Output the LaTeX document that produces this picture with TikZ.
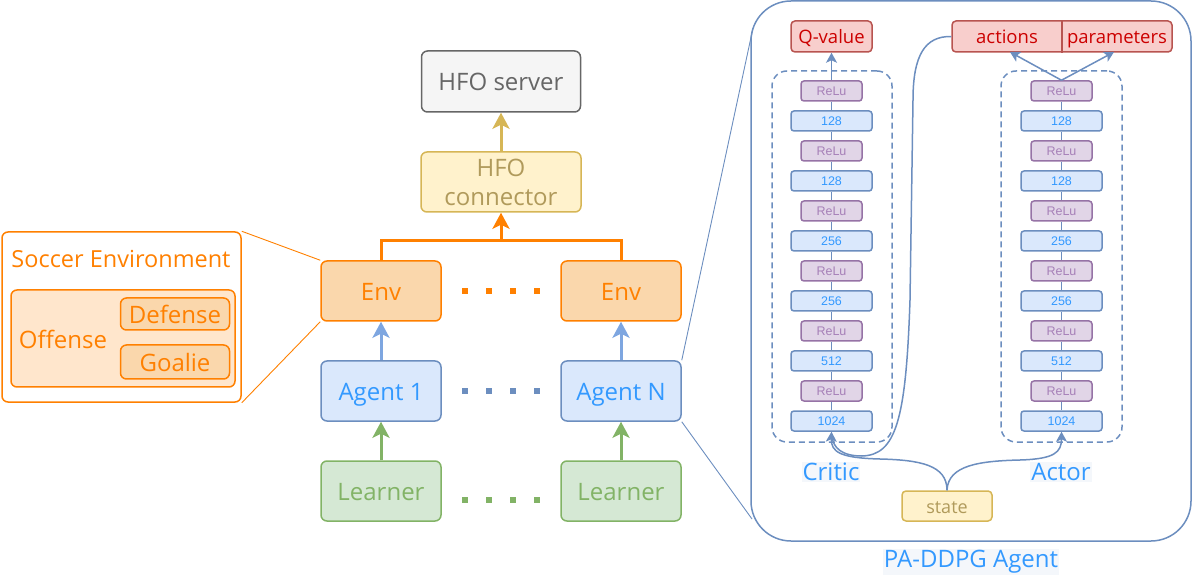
\documentclass[tikz,border=0pt]{standalone}
\usepackage{fontspec}
\setmainfont{Open Sans}
\newfontfamily\smallfont{Liberation Sans}
\usetikzlibrary{arrows.meta,calc}
\definecolor{orng}{HTML}{FF8000}
\definecolor{envfill}{HTML}{FAD7AC}
\definecolor{offfill}{HTML}{FFE6CC}
\definecolor{bfill}{HTML}{DAE8FC}
\definecolor{bdraw}{HTML}{6C8EBF}
\definecolor{btext}{HTML}{3399FF}
\definecolor{barrow}{HTML}{7EA6E0}
\definecolor{gfill}{HTML}{D5E8D4}
\definecolor{gdraw}{HTML}{82B366}
\definecolor{yfill}{HTML}{FFF2CC}
\definecolor{ydraw}{HTML}{D6B656}
\definecolor{ytext}{HTML}{B09A5B}
\definecolor{grfill}{HTML}{F5F5F5}
\definecolor{grdraw}{HTML}{666666}
\definecolor{rfill}{HTML}{F8CECC}
\definecolor{rdraw}{HTML}{B85450}
\definecolor{rtext}{HTML}{CC0000}
\definecolor{pfill}{HTML}{E1D5E7}
\definecolor{pdraw}{HTML}{9673A6}
\definecolor{ptext}{HTML}{A680B8}
\definecolor{lblbg}{HTML}{F4F7FB}
\tikzset{
  box/.style={rounded corners=6pt, line width=1.5pt, inner sep=0pt, align=center,
    font=\fontsize{24}{29}\selectfont},
  bigtxt/.style={text height=18.6pt, text depth=0pt},
  midtxt/.style={text height=14.4pt, text depth=0pt},
  cbox1/.style={box, bigtxt},
  bigbox/.style={cbox1, minimum width=120pt, minimum height=60pt},
  envbox/.style={bigbox, fill=envfill, draw=orng, text=orng},
  agentbox/.style={bigbox, fill=bfill, draw=bdraw, text=btext},
  learnbox/.style={bigbox, fill=gfill, draw=gdraw, text=gdraw},
  relubox/.style={rounded corners=3pt, line width=1.5pt, inner sep=0pt, minimum width=61pt,
    minimum height=20pt, fill=pfill, draw=pdraw, text=ptext, font=\smallfont\fontsize{12.5}{13}\selectfont},
  densebox/.style={rounded corners=3pt, line width=1.5pt, inner sep=0pt, minimum width=81pt,
    minimum height=20pt, fill=bfill, draw=bdraw, text=btext, font=\smallfont\fontsize{12.5}{13}\selectfont},
  bigarrow/.style={line width=3pt, -{Stealth[length=16pt,width=17pt,inset=4pt]}},
  smallarrow/.style={line width=1.5pt, draw=bdraw, -{Stealth[length=10pt,width=11pt,inset=2.5pt]}},
  dotline/.style={line width=6pt, dash pattern=on 6pt off 18pt},
  dashbox/.style={draw=bdraw, line width=1.5pt, dash pattern=on 6pt off 4pt, rounded corners=15pt},
  lbl/.style={fill=lblbg, inner sep=1pt, text=btext, font=\fontsize{24}{29}\selectfont},
  thinlink/.style={line width=0.9pt}
}
\begin{document}
\begin{tikzpicture}[x=1pt,y=-1pt]
\useasboundingbox (0,0) rectangle (1192,577);

% left column
\node[cbox1, minimum width=159pt, minimum height=61pt, fill=grfill, draw=grdraw, text=grdraw] (server) at (501,81.5) {HFO server};
\node[box, minimum width=160pt, minimum height=60pt, fill=yfill, draw=ydraw, text=ytext] (conn) at (501,182) {HFO\\connector};
\node[envbox] (env1) at (381,291) {Env};
\node[envbox] (env2) at (621,291) {Env};
\node[agentbox] (ag1) at (381,391) {Agent 1};
\node[agentbox] (agN) at (621,391) {Agent N};
\node[learnbox] (le1) at (381,491) {Learner};
\node[learnbox] (leN) at (621,491) {Learner};

\draw[bigarrow, draw=ydraw] (conn.north) -- (server.south);
\coordinate (busm) at (501,241);
\draw[line width=3pt, orng] (env1.north) |- (busm) -| (env2.north);
\draw[bigarrow, draw=orng] (busm) -- (conn.south);
\draw[bigarrow, draw=barrow] (ag1.north) -- (env1.south);
\draw[bigarrow, draw=barrow] (agN.north) -- (env2.south);
\draw[bigarrow, draw=gdraw] (le1.north) -- (ag1.south);
\draw[bigarrow, draw=gdraw] (leN.north) -- (agN.south);

\coordinate (d1a) at (462,291); \coordinate (d1b) at (540,291);
\coordinate (d2a) at (462,391); \coordinate (d2b) at (540,391);
\coordinate (d3a) at (462,500); \coordinate (d3b) at (540,500);
\draw[dotline, orng] (d1a) -- (d1b);
\draw[dotline, bdraw] (d2a) -- (d2b);
\draw[dotline, gdraw] (d3a) -- (d3b);

% soccer environment
\node[box, minimum width=239pt, minimum height=170pt, fill=white, draw=orng] (soccer) at (121.5,317) {};
\node[text=orng, font=\fontsize{23.5}{28}\selectfont, text height=18.2pt, text depth=0pt] (soccert) at (121,258) {Soccer Environment};
\node[box, minimum width=224pt, minimum height=97pt, fill=offfill, draw=orng] (off) at (123,338.5) {};
\node[text=orng, font=\fontsize{24}{29}\selectfont, bigtxt] (offt) at (63,339) {Offense};
\node[cbox1, minimum width=109pt, minimum height=32pt, fill=envfill, draw=orng, text=orng] (def) at (175,314) {Defense};
\node[cbox1, minimum width=109pt, minimum height=34pt, fill=envfill, draw=orng, text=orng] (goal) at (175,362) {Goalie};
\draw[thinlink, orng] (soccer.north east) -- (env1.north west);
\draw[thinlink, orng] (soccer.south east) -- (env1.south west);

% PA-DDPG agent
\node[draw=bdraw, line width=1.5pt, rounded corners=40pt, minimum width=440pt, minimum height=540pt, inner sep=0pt] (pa) at (971,271) {};
\node[lbl] (pal) at (971,562) {PA-DDPG Agent};
\coordinate (paa) at (753,28);
\coordinate (pab) at (752,519);
\draw[thinlink, bdraw] (agN.north east) -- (paa);
\draw[thinlink, bdraw] (agN.south east) -- (pab);

\node[dashbox, minimum width=120pt, minimum height=371pt] (cbox) at (832,256.5) {};
\node[dashbox, minimum width=121pt, minimum height=371pt] (abox) at (1061.5,256.5) {};

% critic column
\foreach \n/\y/\t in {c1/91/ReLu, c3/151/ReLu, c5/211/ReLu, c7/271/ReLu, c9/331/ReLu, c11/391/ReLu}
  \node[relubox] (\n) at (831.5,\y) {\t};
\foreach \n/\y/\t in {c2/121/128, c4/181/128, c6/241/256, c8/301/256, c10/361/512, c12/421/1024}
  \node[densebox] (\n) at (831.5,\y) {\t};
\foreach \n/\y/\t in {a1/91/ReLu, a3/151/ReLu, a5/211/ReLu, a7/271/ReLu, a9/331/ReLu, a11/391/ReLu}
  \node[relubox] (\n) at (1061.5,\y) {\t};
\foreach \n/\y/\t in {a2/121/128, a4/181/128, a6/241/256, a8/301/256, a10/361/512, a12/421/1024}
  \node[densebox] (\n) at (1061.5,\y) {\t};
\foreach \p in {c,a}{
  \foreach \i [evaluate=\i as \j using int(\i+1)] in {1,...,11}
    \draw[line width=1.5pt, bdraw] (\p\i.south) -- (\p\j.north);
}

\node[box, minimum width=81pt, minimum height=31pt, fill=rfill, draw=rdraw, text=rtext,
  font=\fontsize{18.5}{22}\selectfont, rounded corners=4pt, midtxt] (qv) at (831.5,36.5) {Q-value};
\node[box, minimum width=220pt, minimum height=31pt, fill=rfill, draw=rdraw, rounded corners=4pt] (ap) at (1062,36.5) {};
\draw[line width=1.5pt, rdraw] (ap.north) -- (ap.south);
\node[text=rtext, font=\fontsize{18.5}{22}\selectfont, inner sep=0pt, midtxt] (act) at (1007,36.5) {actions};
\node[text=rtext, font=\fontsize{18.5}{22}\selectfont, inner sep=0pt, midtxt] (par) at (1117,36.5) {parameters};

\draw[smallarrow] (c1.north) -- (qv.south);
\coordinate (atip1) at (1010,52);
\coordinate (atip2) at (1114,52);
\draw[smallarrow] (a1.north) -- (atip1);
\draw[smallarrow] (a1.north) -- (atip2);

\node[lbl] (critic) at (831,472) {Critic};
\node[lbl] (actor) at (1061,472) {Actor};

\node[box, minimum width=90pt, minimum height=30pt, fill=yfill, draw=ydraw, text=ytext,
  font=\fontsize{18}{22}\selectfont, rounded corners=4pt, text height=14pt, text depth=0pt] (state) at (947,506) {state};

\draw[smallarrow] (state.north) .. controls (947,465) and (920,460) .. (880,459)
   .. controls (840,458) and (831,452) .. (c12.south);
\draw[smallarrow] (state.north) .. controls (948,465) and (980,461) .. (1020,460)
   .. controls (1055,459) and (1061.5,452) .. (a12.south);
\draw[line width=1.5pt, bdraw] (ap.west) .. controls (925,36) and (913,55) .. (913,100)
   -- (910,300) .. controls (906,420) and (896,455) .. (862,456)
   .. controls (842,456) and (833,448) .. (832,436);
\end{tikzpicture}
\end{document}
